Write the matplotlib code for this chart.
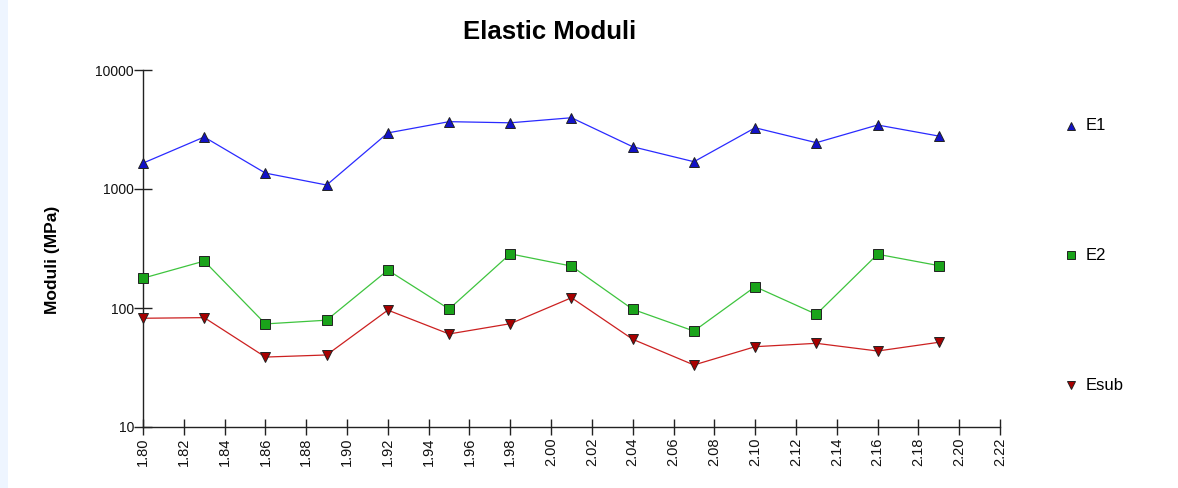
import matplotlib
matplotlib.use("Agg")
import matplotlib.pyplot as plt
from matplotlib.lines import Line2D
from matplotlib.patches import Rectangle
from matplotlib.ticker import FixedLocator, NullLocator, FixedFormatter

plt.rcParams['font.family'] = ['Liberation Sans', 'DejaVu Sans']

# Data
x = [1.80, 1.83, 1.86, 1.89, 1.92, 1.95, 1.98, 2.01, 2.04, 2.07, 2.10, 2.13, 2.16, 2.19]
e1 = [1650, 2735, 1360, 1080, 2960, 3680, 3600, 3970, 2265, 1695, 3270, 2450, 3450, 2785]
e2 = [178, 248, 73.5, 79, 208, 98, 285, 225, 97.5, 64, 151, 88.5, 283, 227]
esub = [82, 83, 38.7, 40.3, 96, 60.5, 73.8, 122, 54.6, 33.2, 47.3, 50.5, 43.5, 51.5]
series_names = ["E1", "E2", "Esub"]
xticks = [round(1.80 + 0.02 * i, 2) for i in range(22)]
xtick_labels = [f"{v:.2f}" for v in xticks]
yticks = [10, 100, 1000, 10000]
ytick_labels = ["10", "100", "1000", "10000"]

W, H = 1178, 488
fig = plt.figure(figsize=(W / 100, H / 100), dpi=100)
fig.patch.set_facecolor("white")
fig.add_artist(Rectangle((0, 0), 8 / W, 1, transform=fig.transFigure,
                         facecolor="#eef5ff", edgecolor="none", zorder=0))

ax = fig.add_axes([143 / W, 1 - 427 / H, (1000 - 143) / W, (427 - 70) / H])
ax.set_facecolor("none")

styles = [
    dict(color="#2a2aff", marker="^", mfc="#1212c8"),
    dict(color="#3ec43e", marker="s", mfc="#1aa31a"),
    dict(color="#cc2020", marker="v", mfc="#a80000"),
]
data = [e1, e2, esub]
for d, st in zip(data, styles):
    ax.plot(x, d, color=st["color"], lw=0.9, marker=st["marker"], ms=7,
            mfc=st["mfc"], mec="#222222", mew=0.7, clip_on=False, zorder=3)

ax.set_yscale("log")
ax.set_xlim(1.80, 2.22)
ax.set_ylim(10, 10000)
ax.yaxis.set_major_locator(FixedLocator(yticks))
ax.yaxis.set_major_formatter(FixedFormatter(ytick_labels))
ax.yaxis.set_minor_locator(NullLocator())
ax.set_xticks(xticks)
ax.set_xticklabels(xtick_labels, rotation=90)

for s in ["top", "right"]:
    ax.spines[s].set_visible(False)
for s in ["left", "bottom"]:
    ax.spines[s].set_linewidth(1.0)
    ax.spines[s].set_color("#222222")

ax.tick_params(axis="y", direction="inout", length=13, width=1.0, pad=0,
               labelsize=10, colors="#222222", labelcolor="#111111")
ax.tick_params(axis="x", direction="inout", length=11, width=1.0, pad=2,
               labelsize=10.5, colors="#222222", labelcolor="#111111")

fig.text(550 / W, 1 - 32 / H, "Elastic Moduli", ha="center", va="center",
         fontsize=18.5, fontweight="bold")
fig.text(52 / W, 1 - 260 / H, "Moduli (MPa)", ha="center", va="center",
         rotation=90, fontsize=12.5, fontweight="bold")

leg_y = [126, 255, 385]
for name, st, yy in zip(series_names, styles, leg_y):
    fig.add_artist(Line2D([1071 / W], [1 - yy / H], transform=fig.transFigure,
                          linestyle="none", marker=st["marker"], ms=5.5,
                          mfc=st["mfc"], mec="#222222", mew=0.7))
    fig.text(1086 / W, 1 - yy / H, name, ha="left", va="center", fontsize=12)

fig.savefig("out.png", dpi=100)
